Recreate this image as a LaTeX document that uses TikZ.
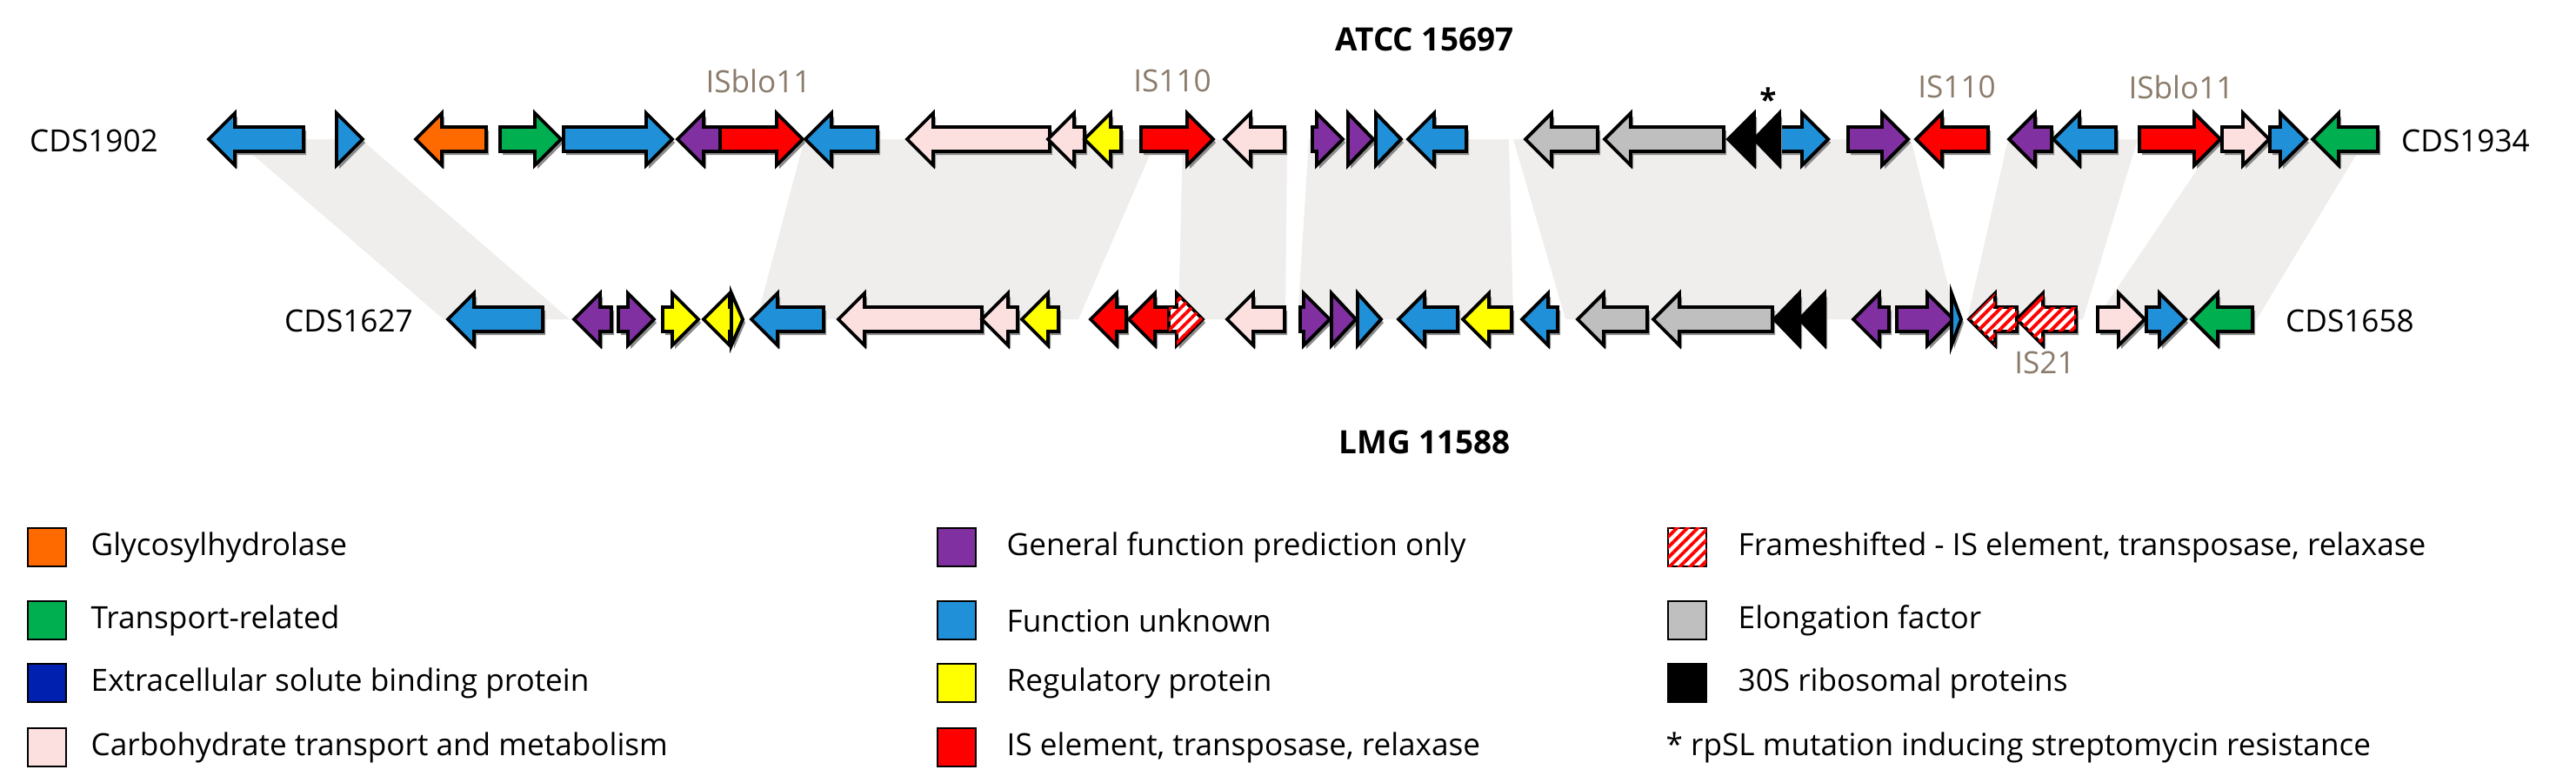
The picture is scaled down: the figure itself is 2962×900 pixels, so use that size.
\documentclass[tikz,border=0pt]{standalone}
\usepackage{fontspec}
\setmainfont{Open Sans}
\usetikzlibrary{patterns.meta}
\definecolor{cblue}{HTML}{2090D8}
\definecolor{corange}{HTML}{FF6A00}
\definecolor{cgreen}{HTML}{00B050}
\definecolor{cpurple}{HTML}{8030A0}
\definecolor{cred}{HTML}{FF0000}
\definecolor{cpink}{HTML}{FCE0E0}
\definecolor{cyellow}{HTML}{FFFF00}
\definecolor{cgray}{HTML}{BFBFBF}
\definecolor{cdblue}{HTML}{0020B0}
\definecolor{cband}{HTML}{EFEEEC}
\definecolor{cbrown}{HTML}{8B7B6B}
\tikzset{
  gene/.style={draw=black,line width=1.1pt,line join=miter,fill=#1},
  hatch/.style={draw=black,line width=1.1pt,fill=white,postaction={pattern={Lines[angle=45,distance=2.4pt,line width=1.1pt]},pattern color=cred}},
  band/.style={fill=cband},
  lab/.style={font=\fontsize{10}{12}\selectfont,text=black},
  islab/.style={font=\fontsize{10}{12}\selectfont,text=cbrown},
  ttl/.style={font=\bfseries\fontsize{10.5}{12}\selectfont},
  leg/.style={draw=black,line width=0.8pt,minimum size=0.44cm,inner sep=0pt},
  legt/.style={font=\fontsize{10}{12}\selectfont,anchor=west,inner sep=0pt}
}
\newcommand\gR[4]{\pgfmathsetmacro\hl{min(30,#2-#1)}%
 \fill[black!45] ({#1+3},{#3-14+4}) -- ({#2-\hl+3},{#3-14+4}) -- ({#2-\hl+3},{#3-30+4}) -- ({#2+3},{#3+4}) -- ({#2-\hl+3},{#3+30+4}) -- ({#2-\hl+3},{#3+14+4}) -- ({#1+3},{#3+14+4}) -- cycle;
 \path[#4] (#1,{#3-14}) -- ({#2-\hl},{#3-14}) -- ({#2-\hl},{#3-30}) -- (#2,#3) -- ({#2-\hl},{#3+30}) -- ({#2-\hl},{#3+14}) -- (#1,{#3+14}) -- cycle;}
\newcommand\gL[4]{\pgfmathsetmacro\hl{min(30,#2-#1)}%
 \fill[black!45] ({#2+3},{#3-14+4}) -- ({#1+\hl+3},{#3-14+4}) -- ({#1+\hl+3},{#3-30+4}) -- ({#1+3},{#3+4}) -- ({#1+\hl+3},{#3+30+4}) -- ({#1+\hl+3},{#3+14+4}) -- ({#2+3},{#3+14+4}) -- cycle;
 \path[#4] (#2,{#3-14}) -- ({#1+\hl},{#3-14}) -- ({#1+\hl},{#3-30}) -- (#1,#3) -- ({#1+\hl},{#3+30}) -- ({#1+\hl},{#3+14}) -- (#2,{#3+14}) -- cycle;}
\newcommand\bnd[4]{\fill[band] (#1,160) -- (#2,160) -- (#4,367) -- (#3,367) -- cycle;}
\begin{document}
\begin{tikzpicture}[x=0.01cm,y=-0.01cm]
\useasboundingbox (0,0) rectangle (2962,900);
% bands
\bnd{270}{415}{510}{655}
\bnd{925}{1330}{870}{1240}
\bnd{1360}{1480}{1355}{1478}
\bnd{1505}{1735}{1492}{1740}
\bnd{1740}{2197}{1800}{2250}
\bnd{2309}{2458}{2262}{2395}
\bnd{2550}{2720}{2410}{2595}
% titles
\node[ttl] (t1) at (1638,45) {ATCC 15697};
\node[ttl] (t2) at (1638,508) {LMG 11588};
\node[lab] (c1) at (108,162) {CDS1902};
\node[lab] (c2) at (2835,162) {CDS1934};
\node[lab] (c3) at (401,369) {CDS1627};
\node[lab] (c4) at (2702,369) {CDS1658};
\node[islab] (i1) at (872,93) {ISblo11};
\node[islab] (i2) at (1348,93) {IS110};
\node[islab] (i3) at (2250,100) {IS110};
\node[islab] (i4) at (2508,100) {ISblo11};
\node[islab] (i5) at (2351,417) {IS21};
\node[font=\bfseries\fontsize{10}{12}\selectfont] (ast) at (2033,114) {*};
% top row
\gL{240}{349}{160}{gene=cblue}
\gR{387}{417}{160}{gene=cblue}
\gL{478}{559}{160}{gene=corange}
\gR{575}{645}{160}{gene=cgreen}
\gR{648}{773}{160}{gene=cblue}
\gL{779}{828}{160}{gene=cpurple}
\gR{828}{923}{160}{gene=cred}
\gL{926}{1009}{160}{gene=cblue}
\gL{1043}{1207}{160}{gene=cpink}
\gL{1205}{1247}{160}{gene=cpink}
\gL{1247}{1289}{160}{gene=cyellow}
\gR{1312}{1395}{160}{gene=cred}
\gL{1408}{1477}{160}{gene=cpink}
\gR{1509}{1544}{160}{gene=cpurple}
\gR{1550}{1579}{160}{gene=cpurple}
\gR{1582}{1611}{160}{gene=cblue}
\gL{1619}{1686}{160}{gene=cblue}
\gL{1754}{1837}{160}{gene=cgray}
\gL{1845}{1982}{160}{gene=cgray}
\gR{2046}{2102}{160}{gene=cblue}
\gL{1987}{2017}{160}{gene=black}
\gL{2017}{2046}{160}{gene=black}
\gR{2125}{2194}{160}{gene=cpurple}
\gL{2203}{2286}{160}{gene=cred}
\gL{2310}{2359}{160}{gene=cpurple}
\gL{2361}{2433}{160}{gene=cblue}
\gR{2460}{2553}{160}{gene=cred}
\gR{2555}{2609}{160}{gene=cpink}
\gR{2610}{2652}{160}{gene=cblue}
\gL{2659}{2734}{160}{gene=cgreen}
% bottom row
\gL{515}{624}{367}{gene=cblue}
\gL{660}{703}{367}{gene=cpurple}
\gR{711}{752}{367}{gene=cpurple}
\gR{762}{803}{367}{gene=cyellow}
\gL{809}{841}{367}{gene=cyellow}
\gR{841}{854}{367}{gene=cyellow}
\gL{864}{947}{367}{gene=cblue}
\gL{964}{1129}{367}{gene=cpink}
\gL{1129}{1170}{367}{gene=cpink}
\gL{1175}{1217}{367}{gene=cyellow}
\gL{1254}{1295}{367}{gene=cred}
\gL{1298}{1344}{367}{gene=cred}
\gR{1344}{1383}{367}{hatch}
\gL{1411}{1477}{367}{gene=cpink}
\gR{1495}{1529}{367}{gene=cpurple}
\gR{1531}{1559}{367}{gene=cpurple}
\gR{1561}{1588}{367}{gene=cblue}
\gL{1608}{1676}{367}{gene=cblue}
\gL{1682}{1738}{367}{gene=cyellow}
\gL{1750}{1791}{367}{gene=cblue}
\gL{1814}{1894}{367}{gene=cgray}
\gL{1901}{2038}{367}{gene=cgray}
\gL{2040}{2069}{367}{gene=black}
\gL{2069}{2098}{367}{gene=black}
\gL{2131}{2172}{367}{gene=cpurple}
\gR{2181}{2246}{367}{gene=cpurple}
\gR{2244}{2255}{367}{gene=cblue}
\gL{2264}{2319}{367}{hatch}
\gL{2319}{2387}{367}{hatch}
\gR{2412}{2466}{367}{gene=cpink}
\gR{2468}{2513}{367}{gene=cblue}
\gL{2520}{2590}{367}{gene=cgreen}
% legend
\node[leg,fill=corange] (l1) at (54,629) {};
\node[legt] (lt1) at (104,629) {Glycosylhydrolase};
\node[leg,fill=cgreen] (l2) at (54,713) {};
\node[legt] (lt2) at (104,713) {Transport-related};
\node[leg,fill=cdblue] (l3) at (54,785) {};
\node[legt] (lt3) at (104,785) {Extracellular solute binding protein};
\node[leg,fill=cpink] (l4) at (54,859) {};
\node[legt] (lt4) at (104,859) {Carbohydrate transport and metabolism};
\node[leg,fill=cpurple] (l5) at (1100,629) {};
\node[legt] (lt5) at (1157,629) {General function prediction only};
\node[leg,fill=cblue] (l6) at (1100,713) {};
\node[legt] (lt6) at (1157,713) {Function unknown};
\node[leg,fill=cyellow] (l7) at (1100,785) {};
\node[legt] (lt7) at (1157,785) {Regulatory protein};
\node[leg,fill=cred] (l8) at (1100,859) {};
\node[legt] (lt8) at (1157,859) {IS element, transposase, relaxase};
\node[leg,fill=white,postaction={pattern={Lines[angle=45,distance=2.4pt,line width=1.1pt]},pattern color=cred}] (l9) at (1940,629) {};
\node[legt] (lt9) at (1998,629) {Frameshifted - IS element, transposase, relaxase};
\node[leg,fill=cgray] (l10) at (1940,713) {};
\node[legt] (lt10) at (1998,713) {Elongation factor};
\node[leg,fill=black] (l11) at (1940,785) {};
\node[legt] (lt11) at (1998,785) {30S ribosomal proteins};
\node[legt] (lt12) at (1915,859) {* rpSL mutation inducing streptomycin resistance};
\end{tikzpicture}
\end{document}
